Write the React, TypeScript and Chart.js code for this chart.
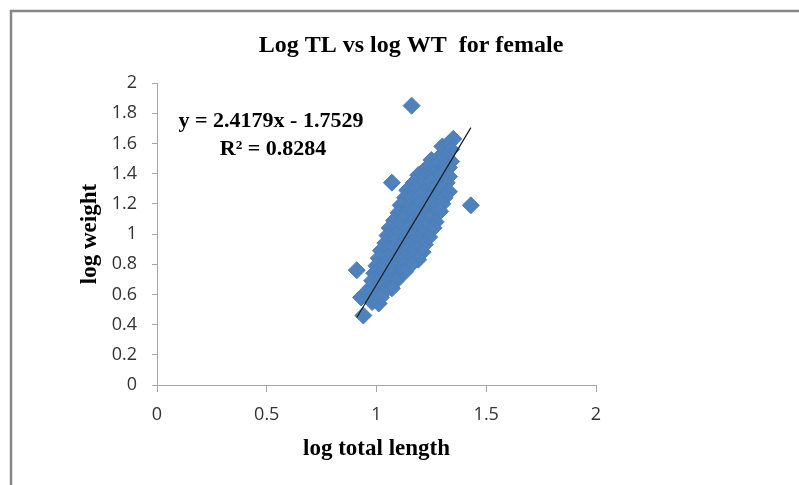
import React, { useEffect, useRef } from "react";
import { Chart, registerables } from "chart.js";

Chart.register(...registerables);

// log total length (x) and log weight (y) of each female fish
const logLength = [
  1.35,
  1.30, 1.33, 1.34,
  1.25, 1.28, 1.31, 1.34,
  1.23, 1.27, 1.30, 1.33,
  1.19, 1.22, 1.26, 1.29, 1.33,
  1.17, 1.21, 1.25, 1.28, 1.32,
  1.14, 1.18, 1.22, 1.26, 1.30, 1.33,
  1.13, 1.16, 1.20, 1.24, 1.28, 1.31,
  1.11, 1.15, 1.19, 1.23, 1.27, 1.30,
  1.10, 1.13, 1.17, 1.21, 1.25, 1.29,
  1.08, 1.12, 1.16, 1.20, 1.24, 1.27,
  1.06, 1.10, 1.14, 1.18, 1.22, 1.26,
  1.05, 1.09, 1.13, 1.17, 1.21, 1.24,
  1.04, 1.08, 1.12, 1.16, 1.20, 1.22,
  1.02, 1.06, 1.10, 1.14, 1.18, 1.21,
  1.01, 1.05, 1.09, 1.13, 1.17, 1.19,
  1.00, 1.04, 1.08, 1.12, 1.16,
  0.99, 1.03, 1.07, 1.11, 1.13,
  0.98, 1.02, 1.06, 1.09,
  0.97, 1.01, 1.04, 1.07,
  0.97, 1.00, 1.03,
  0.98, 1.01,
  1.16, 1.07, 1.43, 0.91, 0.93, 0.94, 1.02,
];
const logWeight = [
  1.63,
  1.58, 1.60, 1.56,
  1.49, 1.50, 1.51, 1.48,
  1.44, 1.45, 1.43, 1.44,
  1.39, 1.38, 1.40, 1.39, 1.38,
  1.34, 1.33, 1.35, 1.33, 1.34,
  1.29, 1.30, 1.28, 1.29, 1.30, 1.28,
  1.24, 1.23, 1.25, 1.24, 1.23, 1.24,
  1.19, 1.18, 1.20, 1.19, 1.18, 1.20,
  1.14, 1.13, 1.15, 1.14, 1.13, 1.15,
  1.09, 1.10, 1.08, 1.09, 1.10, 1.08,
  1.04, 1.05, 1.03, 1.04, 1.05, 1.04,
  0.99, 1.00, 0.98, 0.99, 1.00, 0.98,
  0.94, 0.95, 0.93, 0.94, 0.95, 0.93,
  0.89, 0.90, 0.88, 0.89, 0.90, 0.88,
  0.84, 0.85, 0.83, 0.84, 0.85, 0.83,
  0.79, 0.80, 0.78, 0.79, 0.80,
  0.74, 0.75, 0.73, 0.74, 0.75,
  0.69, 0.70, 0.68, 0.69,
  0.64, 0.65, 0.63, 0.64,
  0.60, 0.59, 0.61,
  0.55, 0.54,
  1.85, 1.34, 1.19, 0.76, 0.58, 0.46, 0.58,
];

// linear trendline (Excel fit)
const trendSlope = 2.4179;
const trendIntercept = -1.7529;
const trendRSquared = 0.8284;
const trendX = [0.91, 1.43];

const chartTitle = "Log TL vs log WT  for female";
const xAxisTitle = "log total length";
const yAxisTitle = "log weight";
const equationLines = [
  `y = ${trendSlope}x - ${Math.abs(trendIntercept)}`,
  `R² = ${trendRSquared}`,
];

const serif = "'Liberation Serif', 'Times New Roman', serif";
const sans = "'Open Sans', 'Liberation Sans', sans-serif";
const axisGray = "#a6a6a6";

const decorPlugin = {
  id: "decor",
  beforeDraw(chart: any) {
    const ctx = chart.ctx;
    ctx.save();
    ctx.strokeStyle = "#868686";
    ctx.lineWidth = 2.5;
    ctx.beginPath();
    ctx.moveTo(11, 485);
    ctx.lineTo(11, 11);
    ctx.lineTo(799, 11);
    ctx.stroke();
    ctx.restore();
  },
  afterDraw(chart: any) {
    const ctx = chart.ctx;
    ctx.save();
    ctx.fillStyle = "#000";
    ctx.textAlign = "center";
    ctx.textBaseline = "alphabetic";
    ctx.font = `bold 24px ${serif}`;
    ctx.fillText(chartTitle, 411, 52);
    ctx.font = `bold 22px ${serif}`;
    ctx.fillText(equationLines[0], 271, 127);
    ctx.fillText(equationLines[1], 273, 155);
    ctx.restore();
  },
};

export default function App() {
  const canvasRef = useRef<HTMLCanvasElement | null>(null);

  useEffect(() => {
    if (!canvasRef.current) return;
    const points = logLength.map((x, i) => ({ x, y: logWeight[i] }));
    const trend = trendX.map((x) => ({ x, y: trendSlope * x + trendIntercept }));
    const fmt = (v: any) => String(Math.round(Number(v) * 10) / 10);

    const chart = new Chart(canvasRef.current, {
      type: "scatter",
      data: {
        datasets: [
          {
            type: "line",
            label: "Linear",
            data: trend,
            borderColor: "#1a1a1a",
            borderWidth: 1.2,
            pointRadius: 0,
            fill: false,
          } as any,
          {
            label: "female",
            data: points,
            pointStyle: "rectRot",
            pointRadius: 8.5,
            backgroundColor: "#4F81BD",
            borderColor: "#4A7EBB",
            borderWidth: 1,
          },
        ],
      },
      options: {
        responsive: false,
        animation: false,
        layout: { padding: { left: 0, right: 203, top: 83, bottom: 0 } },
        plugins: {
          legend: { display: false },
          title: { display: false },
          tooltip: { enabled: false },
        },
        scales: {
          x: {
            type: "linear",
            min: 0,
            max: 2,
            afterFit: (s: any) => {
              s.height = 100;
            },
            ticks: {
              stepSize: 0.5,
              padding: 12,
              color: "#333333",
              font: { family: sans, size: 18 },
              callback: fmt,
            },
            grid: { drawOnChartArea: false, drawTicks: true, tickLength: 7, color: axisGray },
            border: { color: axisGray, width: 1 },
            title: {
              display: true,
              text: xAxisTitle,
              color: "#000",
              font: { family: serif, size: 23, weight: "bold" },
              padding: { top: 0, bottom: 22 },
            },
          },
          y: {
            type: "linear",
            min: 0,
            max: 2,
            afterFit: (s: any) => {
              s.width = 157;
            },
            ticks: {
              stepSize: 0.2,
              padding: 15,
              color: "#333333",
              font: { family: sans, size: 18 },
              callback: fmt,
            },
            grid: { drawOnChartArea: false, drawTicks: true, tickLength: 5, color: axisGray },
            border: { color: axisGray, width: 1 },
            title: {
              display: true,
              text: yAxisTitle,
              color: "#000",
              font: { family: serif, size: 23, weight: "bold" },
              padding: { top: 76, bottom: 0 },
            },
          },
        },
      },
      plugins: [decorPlugin],
    });
    return () => chart.destroy();
  }, []);

  return (
    <div style={{ position: "fixed", left: 0, top: 0, width: 799, height: 485, background: "#fff" }}>
      <canvas ref={canvasRef} width={799} height={485} />
    </div>
  );
}
